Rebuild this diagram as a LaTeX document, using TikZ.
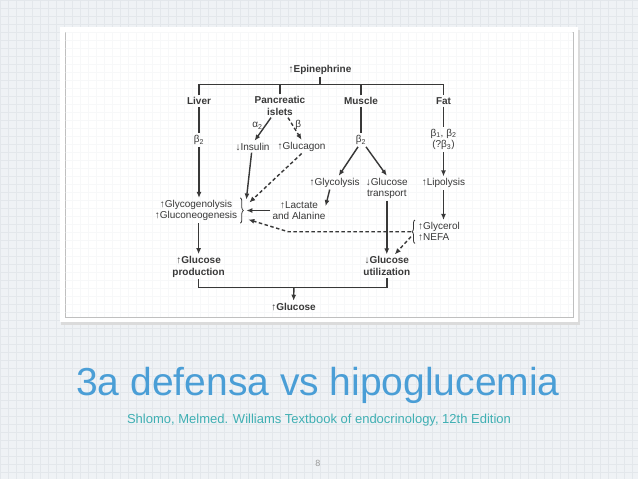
\documentclass[tikz,border=0pt]{standalone}
\usepackage{fontspec}
\setmainfont{Liberation Sans}
\usetikzlibrary{arrows.meta,decorations.pathreplacing}
\definecolor{ink}{HTML}{383838}
\definecolor{paper}{HTML}{EFF2F5}
\definecolor{gridln}{HTML}{E3E7EB}
\definecolor{titleblue}{HTML}{4A9ED6}
\definecolor{subteal}{HTML}{3FAFB3}
\begin{document}
\begin{tikzpicture}[x=1pt,y=-1pt,
  txt/.style={text=ink,font=\fontsize{10}{11.5}\selectfont,inner sep=2pt,align=center},
  bold/.style={txt,font=\fontsize{10}{11.5}\selectfont\bfseries},
  ln/.style={draw=ink,line width=1.4pt},
  arr/.style={ln,-{Latex[length=6pt,width=5pt]}},
  darr/.style={arr,dash pattern=on 3.5pt off 2.5pt},
  brc/.style={draw=ink,line width=0.8pt,decorate,decoration={brace,amplitude=3pt}}]
\useasboundingbox (0,0) rectangle (638,479);
% slide background and frame
\fill[paper] (0,0) rectangle (638,479);
\draw[gridln,line width=0.3pt,step=8pt] (0,0) grid (638,479);
\fill[black!14] (61,30) rectangle (580,325);
\fill[white] (60,27) rectangle (578,322);
\draw[black!25,line width=0.5pt,fill=white!97!paper] (65,32) rectangle (573,317);
\begin{scope}
\clip (65.5,32.5) rectangle (572.5,316.5);
\draw[gridln!30,line width=0.3pt,step=8pt] (0,0) grid (638,479);
\end{scope}
% nodes
\node[bold] (epi) at (320,70) {↑Epinephrine};
\coordinate (top) at (320,84.5);
\node[bold] (liver) at (199,101) {Liver};
\node[bold] (pan) at (280,106) {Pancreatic\\islets};
\node[bold] (muscle) at (361,101) {Muscle};
\node[bold] (fat) at (443.5,101) {Fat};
\node[txt] (bliv) at (199,140) {β\textsubscript{2}};
\node[txt] (ins) at (252.6,146.7) {↓Insulin};
\node[txt] (glu) at (301.6,146.7) {↑Glucagon};
\node[txt] (bmus) at (361,140) {β\textsubscript{2}};
\node[txt] (bfat) at (443.5,139.5) {β\textsubscript{1}, β\textsubscript{2}\\(?β\textsubscript{3})};
\node[txt] (glyc) at (334.7,182.7) {↑Glycolysis};
\node[txt] (gtr) at (386.8,188.3) {↓Glucose\\transport};
\node[txt] (lipo) at (443.5,183.3) {↑Lipolysis};
\node[txt] (gneo) at (196,210.5) {↑Glycogenolysis\\↑Gluconeogenesis};
\node[txt] (lact) at (299,210.5) {↑Lactate\\and Alanine};
\node[txt,align=left] (gly) at (439,231.7) {↑Glycerol\\↑NEFA};
\node[bold] (gprod) at (198.6,266.7) {↑Glucose\\production};
\node[bold] (gutil) at (386.8,266) {↓Glucose\\utilization};
\node[bold] (gluc) at (293.5,306.7) {↑Glucose};
\coordinate (gtip) at ([xshift=4pt]gneo.east);
\coordinate (ftip) at ([xshift=-5pt]gly.west);
\coordinate (bend) at (288,231.7);
\coordinate (join) at (293.9,287.3);
% connectors
\draw[ln] (epi) -- (top);
\draw[ln] (liver.north) |- (top) -| (fat.north);
\draw[ln] (pan.north) -- (pan.north |- top);
\draw[ln] (muscle.north) -- (muscle.north |- top);
\draw[ln] (liver) -- (bliv);
\draw[arr] (bliv) -- (bliv |- gneo.north);
\draw[arr] ([xshift=-9pt]pan.south) -- node[txt,left,pos=0.35] (a2) {α\textsubscript{2}} ([xshift=2pt]ins.north);
\draw[darr] ([xshift=8pt]pan.south) -- node[txt,right,pos=0.35] (b1) {β} (glu.north);
\draw[ln] (muscle) -- (bmus);
\draw[arr] ([xshift=-3pt]bmus.south) -- ([xshift=4pt]glyc.north);
\draw[arr] ([xshift=5pt]bmus.south) -- (gtr.north);
\draw[ln] (fat) -- (bfat);
\draw[arr] (bfat) -- (lipo);
\draw[arr] (lipo) -- (lipo |- gly.north);
\draw[brc] ([xshift=1pt]gneo.north east) -- ([xshift=1pt]gneo.south east);
\draw[brc] ([xshift=-1pt]gly.south west) -- ([xshift=-1pt]gly.north west);
\draw[arr] ([xshift=-1pt]ins.south) -- ([xshift=3pt,yshift=11pt]gtip);
\draw[darr] (glu.south) -- ([xshift=6pt,yshift=8pt]gtip);
\draw[arr] (lact) -- ([xshift=3pt]gtip);
\draw[arr] ([xshift=-5pt]glyc.south) -- ([xshift=-2pt,yshift=-7pt]lact.north east);
\draw[arr] (gtr) -- (gutil);
\draw[darr] (ftip) -- (bend) -- ([xshift=5pt,yshift=-9pt]gtip);
\draw[darr] ([yshift=-5pt]ftip) -- ([xshift=8pt]gutil.north);
\draw[arr] (gprod.north |- gneo.south) -- (gprod.north);
\draw[ln] (gprod.south) |- (join) -| (gutil.south);
\draw[arr] (join) -- (gluc);
% slide texts
\node[anchor=base,text=titleblue,font=\fontsize{39}{40}\selectfont,inner sep=0] (title) at (318,395) {3a defensa vs hipoglucemia};
\node[anchor=base,text=subteal,font=\fontsize{13}{14}\selectfont,inner sep=0] (cite) at (319,423) {Shlomo, Melmed. Williams Textbook of endocrinology, 12th Edition};
\node[text=black!40,font=\fontsize{9}{10}\selectfont] (pg) at (318,463) {8};
\end{tikzpicture}
\end{document}
